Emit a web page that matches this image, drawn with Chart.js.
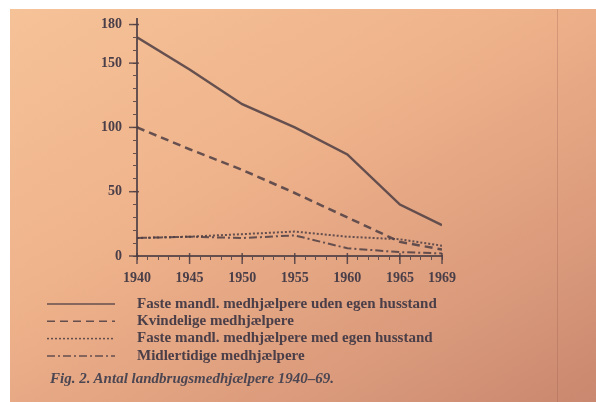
<!DOCTYPE html>
<html>
<head>
<meta charset="utf-8">
<script src="https://cdn.jsdelivr.net/npm/chart.js@4/dist/chart.umd.min.js"></script>
<style>
    body { margin: 0; background: #fff; }
    #side { position: absolute; left: 0; top: 0; width: 596px; height: 402px; overflow: hidden; }
    #papir {
        position: absolute; left: 10px; top: 9px; right: 0; bottom: 0;
        background: linear-gradient(150deg, #f6c298 0%, #efb38b 40%, #db9b7c 75%, #c9886f 100%);
    }
    #fold { position: absolute; left: 557px; top: 9px; width: 1px; bottom: 0; background: rgba(140, 80, 70, 0.25); }
    #tekst {
        position: absolute; left: 50px; top: 370px;
        font: italic bold 15px "Liberation Serif", serif; color: #4c4652;
    }
    canvas { position: absolute; left: 0; top: 0; }
</style>
</head>
<body>
<div id="side">
    <div id="papir"></div>
    <div id="fold"></div>
    <canvas id="graf" width="596" height="402"></canvas>
    <div id="tekst">Fig. 2. Antal landbrugsmedhjælpere 1940–69.</div>
</div>
<script>
// (1000 personer)
const aar = [1940, 1945, 1950, 1955, 1960, 1965, 1969];
const udenHusstand = [170, 145, 118, 100, 79, 40, 24];
const kvindelige = [100, 83, 67, 49, 30, 11, 5];
const medHusstand = [14, 15, 17, 19, 15, 13, 8];
const midlertidige = [14, 15, 14, 16, 6, 3, 2];

const xEtiketter = [1940, 1945, 1950, 1955, 1960, 1965, 1969];
const yEtiketter = [0, 50, 100, 150, 180];

const serier = [
    { navn: "Faste mandl. medhjælpere uden egen husstand", data: udenHusstand, dash: [], bredde: 2.5 },
    { navn: "Kvindelige medhjælpere", data: kvindelige, dash: [8, 5], bredde: 2.5 },
    { navn: "Faste mandl. medhjælpere med egen husstand", data: medHusstand, dash: [2, 2], bredde: 2 },
    { navn: "Midlertidige medhjælpere", data: midlertidige, dash: [8, 3, 2, 3], bredde: 2 }
];

const farve = "rgba(78, 62, 68, 0.85)";
const tekstFarve = "#4a3e48";

// lange hovedstreger paa akserne og legenden under figuren
const ekstraTegning = {
    id: "ekstraTegning",
    afterDraw(chart) {
        const ctx = chart.ctx;
        const x = chart.scales.x;
        const y = chart.scales.y;
        ctx.save();
        ctx.strokeStyle = farve;
        ctx.lineWidth = 1.5;
        xEtiketter.forEach(v => {
            const px = x.getPixelForValue(v);
            ctx.beginPath();
            ctx.moveTo(px, y.bottom - 3);
            ctx.lineTo(px, y.bottom + 8);
            ctx.stroke();
        });
        yEtiketter.forEach(v => {
            const py = y.getPixelForValue(v);
            ctx.beginPath();
            ctx.moveTo(x.left - 8, py);
            ctx.lineTo(x.left + 2, py);
            ctx.stroke();
        });

        ctx.font = "bold 15px 'Liberation Serif', serif";
        ctx.textBaseline = "middle";
        chart.data.datasets.forEach((ds, i) => {
            const ly = 304 + i * 17.3;
            ctx.strokeStyle = ds.borderColor;
            ctx.lineWidth = 1.5;
            ctx.setLineDash(ds.borderDash);
            ctx.beginPath();
            ctx.moveTo(47, ly);
            ctx.lineTo(115, ly);
            ctx.stroke();
            ctx.setLineDash([]);
            ctx.fillStyle = tekstFarve;
            ctx.fillText(ds.label, 137, ly);
        });
        ctx.restore();
    }
};

const graf = new Chart(document.getElementById("graf"), {
    type: "line",
    data: {
        datasets: serier.map(s => ({
            label: s.navn,
            data: s.data.map((v, i) => ({ x: aar[i], y: v })),
            borderColor: farve,
            borderWidth: s.bredde,
            borderDash: s.dash,
            pointRadius: 0,
            tension: 0,
            fill: false
        }))
    },
    options: {
        responsive: false,
        animation: false,
        devicePixelRatio: 1,
        layout: { padding: { left: 0, top: 13, right: 154, bottom: 106 } },
        plugins: { legend: { display: false }, tooltip: { enabled: false } },
        scales: {
            x: {
                type: "linear",
                min: 1940,
                max: 1969,
                afterBuildTicks: ax => { ax.ticks = []; for (let a = 1940; a <= 1969; a++) ax.ticks.push({ value: a }); },
                afterFit: ax => { ax.height = 40; },
                grid: { drawOnChartArea: false, tickLength: 4, color: farve, lineWidth: 1 },
                border: { display: true, color: farve, width: 2 },
                ticks: {
                    autoSkip: false,
                    maxRotation: 0,
                    padding: 10,
                    color: tekstFarve,
                    font: { family: "'Liberation Serif', serif", size: 14, weight: "bold" },
                    callback: v => xEtiketter.includes(v) ? String(v) : ""
                }
            },
            y: {
                min: 0,
                max: 184,
                afterBuildTicks: ax => { ax.ticks = []; for (let v = 0; v <= 180; v += 10) ax.ticks.push({ value: v }); },
                afterFit: ax => { ax.width = 137; },
                grid: { drawOnChartArea: false, tickLength: 4, color: farve, lineWidth: 1 },
                border: { display: true, color: farve, width: 2 },
                ticks: {
                    autoSkip: false,
                    padding: 11,
                    color: tekstFarve,
                    font: { family: "'Liberation Serif', serif", size: 14, weight: "bold" },
                    callback: v => yEtiketter.includes(v) ? String(v) : ""
                }
            }
        }
    },
    plugins: [ekstraTegning]
});
</script>
</body>
</html>
